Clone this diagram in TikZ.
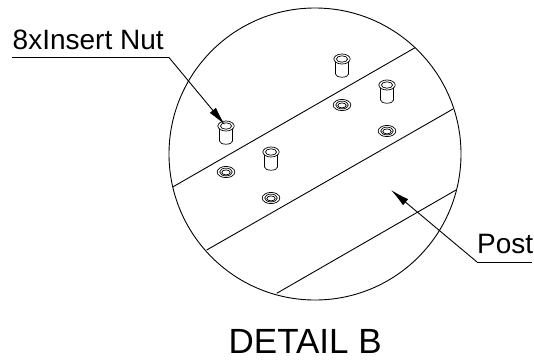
\documentclass[tikz,border=0pt]{standalone}
\usepackage{fontspec}
\setmainfont{Liberation Sans}
\usetikzlibrary{arrows.meta}
\tikzset{
  edgeline/.style={draw=black,line width=0.9pt},
  thin part/.style={draw=black,line width=0.7pt},
  leader/.style={draw=black,line width=0.9pt,-{Latex[length=19pt,width=8pt]}},
  rule line/.style={draw=black,line width=0.9pt},
  label small/.style={anchor=base west,inner sep=0pt,font=\fontsize{28}{28}\selectfont},
  label big/.style={anchor=base west,inner sep=0pt,font=\fontsize{35}{35}\selectfont},
  pics/insertnut/.style={code={
    \draw[thin part] (-6.5,1) -- (-6.5,15) arc[start angle=180,end angle=0,x radius=6.5,y radius=3.2] -- (6.5,1);
    \draw[thin part,fill=white] (0,0) ellipse[x radius=8.2,y radius=5];
    \draw[thin part] (0,0) ellipse[x radius=5.6,y radius=3.2];
  }},
  pics/nuthole/.style={code={
    \draw[thin part] (0,0) ellipse[x radius=8.8,y radius=5.6];
    \draw[thin part] (0,0) ellipse[x radius=6.3,y radius=3.9];
    \draw[thin part] (0,0.4) ellipse[x radius=4.2,y radius=2.5];
  }}
}
\begin{document}
\begin{tikzpicture}[x=1pt,y=-1pt]
\useasboundingbox (0,0) rectangle (534,360);
\draw[edgeline] (315,154) circle[radius=146];
\coordinate (a1) at (172.7,187); \coordinate (a2) at (415,47.7);
\coordinate (b1) at (206.7,250); \coordinate (b2) at (453,109);
\coordinate (c1) at (276.7,293.3); \coordinate (c2) at (456,190);
\draw[edgeline] (a1) -- (a2);
\draw[edgeline] (b1) -- (b2);
\draw[edgeline] (c1) -- (c2);
\pic at (226,126) {insertnut};
\pic at (271,152) {insertnut};
\pic at (342,59) {insertnut};
\pic at (387,85) {insertnut};
\pic at (226,172) {nuthole};
\pic at (271,198) {nuthole};
\pic at (342,105) {nuthole};
\pic at (387,131) {nuthole};
\node[label small] (nutlabel) at (12.5,49.5) {8xInsert Nut};
\coordinate (nutstart) at (12,57.5); \coordinate (nutknee) at (169,57.5); \coordinate (nuttip) at (225,125);
\draw[rule line] (nutstart) -- (nutknee);
\draw[leader] (nutknee) -- (nuttip);
\node[label small] (postlabel) at (477,253.5) {Post};
\coordinate (postend) at (532,262); \coordinate (postknee) at (477,262); \coordinate (posttip) at (391,190);
\draw[rule line] (postend) -- (postknee);
\draw[leader] (postknee) -- (posttip);
\node[label big] (title) at (228.5,353) {DETAIL B};
\end{tikzpicture}
\end{document}
